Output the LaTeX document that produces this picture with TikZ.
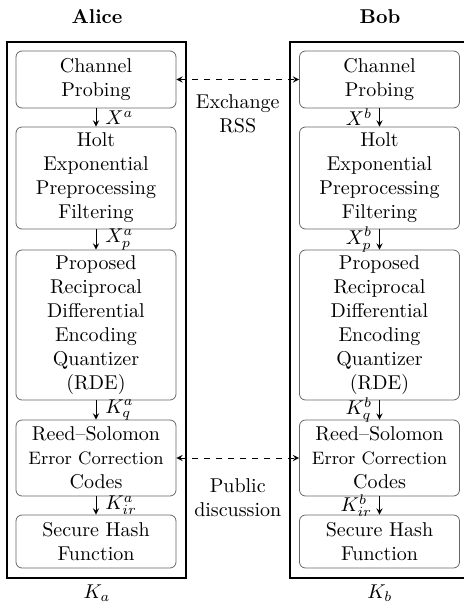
\documentclass[tikz,border=0pt]{standalone}
\usepackage{latexsym,amsfonts,amssymb,amsmath}
\usetikzlibrary{positioning}
\usepgflibrary{arrows}

\begin{document}
\begin{tikzpicture}
		[x = 0.5pt, y = -0.5pt, >=stealth,
		 block/.style = {draw=black!60, rounded corners=3pt, align=center,
			minimum width=80pt, inner sep=2pt},
		 frame/.style = {draw, line width=1pt},
		 flow/.style = {->},
		 lbl/.style = {inner sep=0.5pt},
		 talk/.style = {<->, dashed}]
		\useasboundingbox (0, 0) rectangle (464, 606);
		% Alice
		\draw[frame] (7, 42) rectangle (186, 578);
		\node[font=\bfseries] (alice) at (97, 17) {Alice};
		\node[block, minimum height=28.5pt] (cpa)  at (96, 79.5)  {Channel\\Probing};
		\node[block, minimum height=51pt]   (hea)  at (96, 178)   {Holt\\Exponential\\Preprocessing\\Filtering};
		\node[block, minimum height=75pt]   (rdea) at (96, 325)   {Proposed\\Reciprocal\\Differential\\Encoding\\Quantizer\\(RDE)};
		\node[block, minimum height=38pt]   (rsa)  at (96, 458)   {Reed--Solomon\\{\small Error Correction}\\Codes};
		\node[block, minimum height=26.5pt] (sha)  at (96, 541.5) {Secure Hash\\Function};
		\node (ka) at (97, 593) {$K_a$};
		\draw[flow] (cpa)  -- node[lbl, right=4pt]{$X^a$}      (hea);
		\draw[flow] (hea)  -- node[lbl, right=4pt]{$X^a_p$}    (rdea);
		\draw[flow] (rdea) -- node[lbl, right=4pt]{$K^a_q$}    (rsa);
		\draw[flow] (rsa)  -- node[lbl, right=4pt]{$K^a_{ir}$} (sha);
		% Bob
		\draw[frame] (290, 42) rectangle (469, 578);
		\node[font=\bfseries] (bob) at (380, 17) {Bob};
		\node[block, minimum height=28.5pt] (cpb)  at (379.5, 79.5)  {Channel\\Probing};
		\node[block, minimum height=51pt]   (heb)  at (379.5, 178)   {Holt\\Exponential\\Preprocessing\\Filtering};
		\node[block, minimum height=75pt]   (rdeb) at (379.5, 325)   {Proposed\\Reciprocal\\Differential\\Encoding\\Quantizer\\(RDE)};
		\node[block, minimum height=38pt]   (rsb)  at (379.5, 458)   {Reed--Solomon\\{\small Error Correction}\\Codes};
		\node[block, minimum height=26.5pt] (shb)  at (379.5, 541.5) {Secure Hash\\Function};
		\node (kb) at (380, 593) {$K_b$};
		\draw[flow] (cpb)  -- node[lbl, left=3pt]{$X^b$}      (heb);
		\draw[flow] (heb)  -- node[lbl, left=3pt]{$X^b_p$}    (rdeb);
		\draw[flow] (rdeb) -- node[lbl, left=3pt]{$K^b_q$}    (rsb);
		\draw[flow] (rsb)  -- node[lbl, left=3pt]{$K^b_{ir}$} (shb);
		% between the two
		\draw[talk] (cpa) -- node[below=4pt, align=center]{Exchange\\RSS} (cpb);
		\draw[talk] (rsa) -- node[below=7pt, align=center]{Public\\discussion} (rsb);
	\end{tikzpicture}
\end{document}
